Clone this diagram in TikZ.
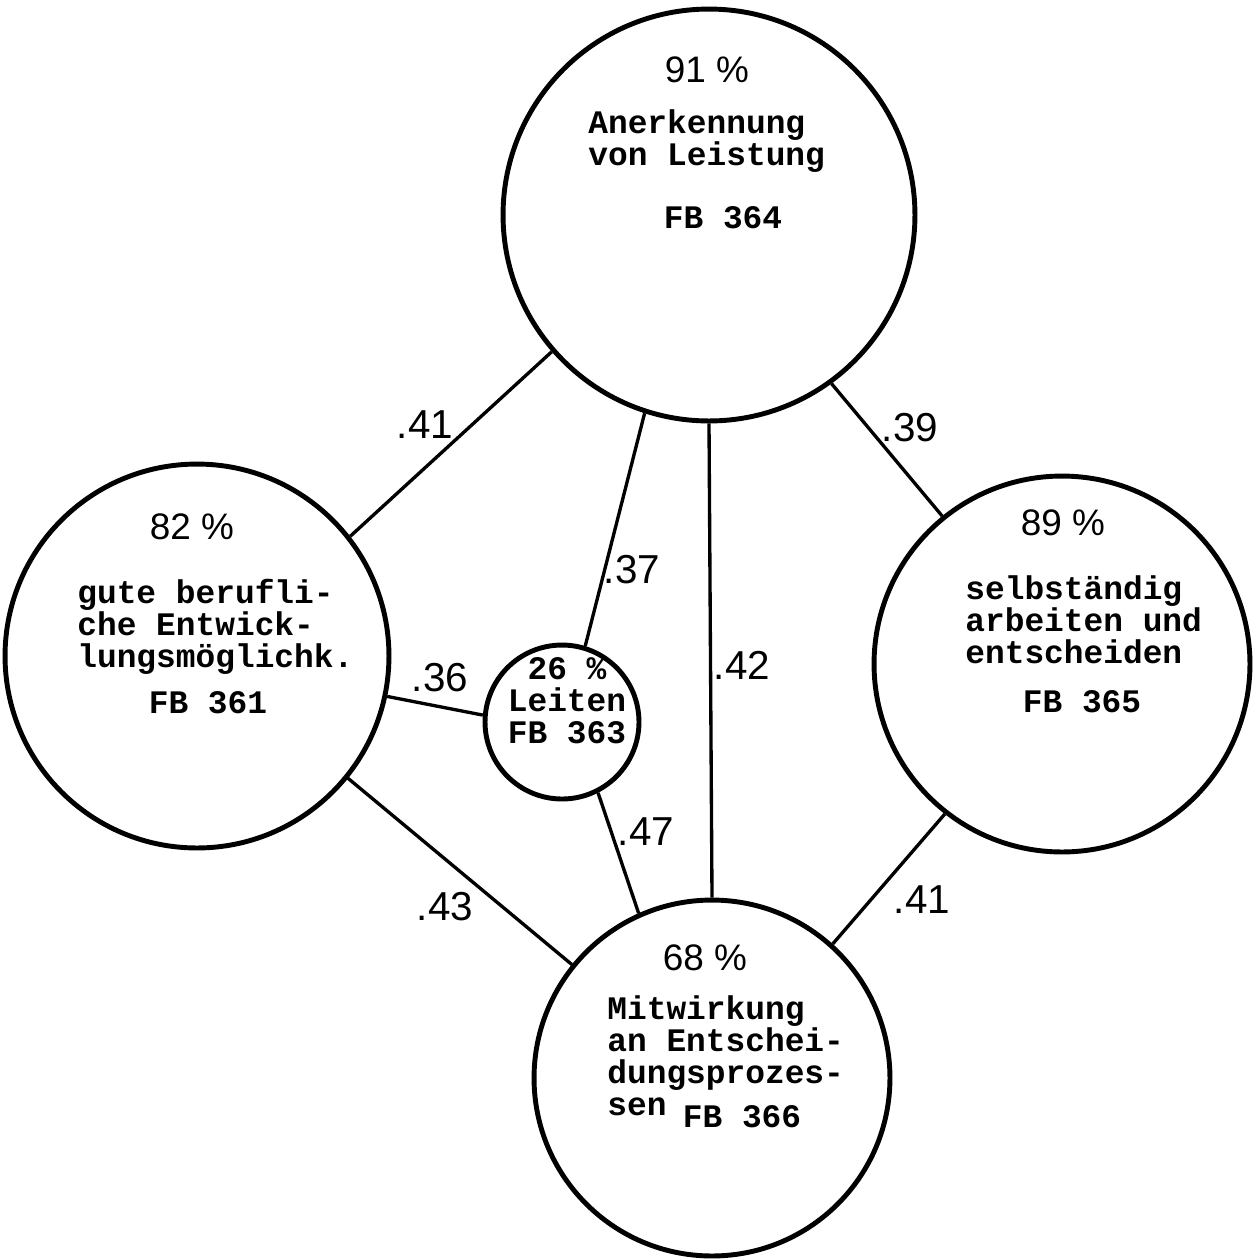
\documentclass[tikz,border=0pt]{standalone}
\usepackage{fontspec}
\usepackage{tikz}
\newfontfamily\typewr{Liberation Mono}
\newfontfamily\plainsans{Liberation Sans}
\tikzset{
    bubble/.style={
        circle,
        draw=black,
        line width=2.8pt,
        inner sep=0pt
    },
    itemtext/.style={
        align=left,
        anchor=west,
        inner sep=0pt,
        font=\typewr\bfseries\fontsize{18.7}{18.2}\selectfont
    },
    fbtext/.style={
        inner sep=0pt,
        font=\typewr\bfseries\fontsize{18.7}{18.2}\selectfont
    },
    pcttext/.style={
        inner sep=0pt,
        font=\plainsans\fontsize{21}{23}\selectfont
    },
    link/.style={
        line width=1.9pt
    },
    weight/.style={
        inner sep=0pt,
        font=\plainsans\fontsize{23}{25}\selectfont
    }
}

\begin{document}
\begin{tikzpicture}[x=0.02cm, y=-0.02cm]
\useasboundingbox (0,0) rectangle (1260,1259);

% Anerkennung von Leistung
\node[bubble, minimum size=8.24cm] (anerk) at (709,215) {};
\node[pcttext] (anerk-pct) at (707,70) {91 \%};
\node[itemtext] (anerk-text) at (588,141) {Anerkennung\\von Leistung};
\node[fbtext] (anerk-fb) at (723,218) {FB 364};

% Entwicklungsmoeglichkeiten
\node[bubble, minimum size=7.68cm] (entw) at (197,656) {};
\node[pcttext] (entw-pct) at (192,527) {82 \%};
\node[itemtext] (entw-text) at (77,627) {gute berufli-\\che Entwick-\\lungsmöglichk.};
\node[fbtext] (entw-fb) at (208,703) {FB 361};

% selbstaendig arbeiten
\node[bubble, minimum size=7.52cm] (selbst) at (1062,664) {};
\node[pcttext] (selbst-pct) at (1063,523) {89 \%};
\node[itemtext] (selbst-text) at (965,620) {selbständig\\arbeiten und\\entscheiden};
\node[fbtext] (selbst-fb) at (1082,702) {FB 365};

% Mitwirkung
\node[bubble, minimum size=7.12cm] (mitw) at (712,1078) {};
\node[pcttext] (mitw-pct) at (705,958) {68 \%};
\node[itemtext] (mitw-text) at (607,1056) {Mitwirkung\\an Entschei-\\dungsprozes-\\sen};
\node[fbtext] (mitw-fb) at (742,1117) {FB 366};

% Leiten
\node[bubble, minimum size=3.08cm] (leiten) at (562,722) {};
\node[fbtext, align=center] (leiten-text) at (567,701) {26 \%\\Leiten\\FB 363};

% connections
\draw[link] (anerk.221) -- (entw.38);
\draw[link] (anerk.306) -- (selbst.129);
\draw[link] (anerk.252) -- (leiten.73);
\draw[link] (anerk.270) -- (mitw.90);
\draw[link] (entw.348) -- (leiten.175);
\draw[link] (leiten.297) -- (mitw.114);
\draw[link] (entw.321) -- (mitw.141);
\draw[link] (selbst.232) -- (mitw.48);

% weights
\node[weight] (w-anerk-entw) at (425,425) {.41};
\node[weight] (w-anerk-selbst) at (910,428) {.39};
\node[weight] (w-anerk-leiten) at (632,570) {.37};
\node[weight] (w-anerk-mitw) at (742,665) {.42};
\node[weight] (w-entw-leiten) at (440,678) {.36};
\node[weight] (w-leiten-mitw) at (646,832) {.47};
\node[weight] (w-entw-mitw) at (445,907) {.43};
\node[weight] (w-selbst-mitw) at (922,900) {.41};
\end{tikzpicture}
\end{document}
